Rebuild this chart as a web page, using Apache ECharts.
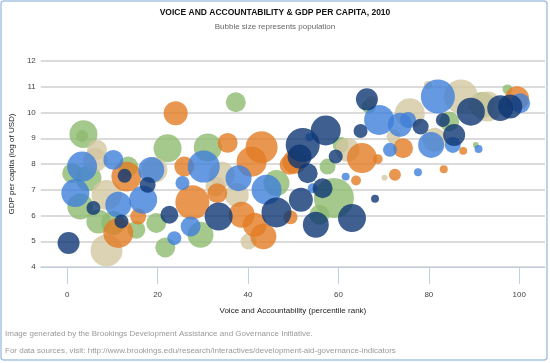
<!DOCTYPE html>
<html><head><meta charset="utf-8">
<script src="https://cdn.jsdelivr.net/npm/echarts@6/dist/echarts.min.js"></script>
<style>html,body{margin:0;padding:0;background:#fff}#c{width:550px;height:363px}</style>
</head><body><div id="c"></div>
<script>
// [voice & accountability percentile, log GDP per capita, population (index)]
var navyPts = [
 [0.3,4.93,84],[12.0,5.77,34],[12.7,7.54,34],[17.8,7.19,44],[5.8,6.29,34],[22.6,6.03,56],
 [33.5,5.96,136],[46.3,6.12,156],[51.7,6.61,100],[51.4,8.29,100],[52.1,8.74,201],[53.2,7.64,69],
 [56.5,7.06,69],[57.2,9.3,156],[63.0,5.9,136],[55.0,5.64,117],[59.4,8.29,34],[64.9,9.28,34],
 [66.3,10.51,84],[68.1,6.65,11],[78.2,9.45,44],[83.1,9.71,34],[85.6,9.13,84],[95.8,10.17,117],
 [98.0,10.23,100],[89.3,10.03,136]
];
var bluePts = [
 [3.3,7.9,156],[10.2,8.16,69],[1.8,6.87,136],[11.3,6.42,117],[16.8,6.61,136],[18.6,7.77,117],
 [25.5,7.26,34],[23.7,5.12,34],[27.3,5.57,69],[30.2,7.9,178],[37.9,7.45,117],[44.1,7.0,156],
 [53.6,9.04,11],[54.3,7.06,17],[61.6,7.51,11],[69.0,9.71,156],[73.6,9.52,100],[75.4,9.71,44],
 [71.4,8.55,34],[77.6,7.68,11],[80.5,8.74,117],[82.0,10.62,201],[85.3,8.74,44],[91.0,8.58,11],
 [100.2,10.36,69]
];
var greenPts = [
 [3.6,9.16,136],[3.3,9.09,25],[1.1,7.64,69],[4.7,7.45,117],[2.9,6.35,117],[6.9,5.77,100],
 [10.2,5.71,100],[13.5,7.9,69],[15.3,5.45,56],[19.7,5.71,69],[21.7,4.76,69],[22.2,8.61,136],
 [31.1,8.64,136],[37.3,10.4,69],[29.5,5.25,117],[46.3,7.26,117],[57.6,7.9,44],[60.5,8.74,44],
 [59.0,6.68,278],[55.8,6.03,69],[66.7,10.23,34],[84.5,9.65,69],[91.8,10.29,117],[97.4,10.9,17],
 [90.4,8.74,6]
];
var orangePts = [
 [11.3,5.32,156],[13.1,7.51,156],[15.7,5.96,44],[24.0,9.97,100],[25.9,7.9,69],[27.7,6.51,201],
 [35.5,8.82,69],[33.2,6.87,69],[43.0,8.65,178],[40.8,8.09,156],[38.6,6.03,117],[41.5,5.64,100],
 [43.4,5.19,117],[49.2,7.97,69],[50.3,8.09,100],[49.4,5.93,34],[65.2,8.23,156],[68.7,8.19,17],
 [63.9,7.36,17],[72.5,7.58,25],[74.3,8.61,69],[83.3,7.8,11],[87.6,8.51,11],[99.5,10.55,100]
];
var tanPts = [
 [8.7,4.64,178],[6.6,8.55,69],[6.2,8.16,100],[8.7,6.8,156],[19.3,7.77,117],[34.2,7.58,117],
 [32.8,7.13,69],[37.5,6.8,100],[40.1,4.99,44],[62.0,8.55,100],[67.3,10.42,25],[70.2,7.47,6],
 [72.2,9.06,34],[75.8,9.97,156],[81.3,8.94,100],[87.1,10.62,201],[92.9,10.23,156],[79.8,11.07,11]
];
var xTicks = [0,20,40,60,80,100];
var yMin = 4, yMax = 12;

var FONT = '"Liberation Sans", Arial, sans-serif';
function ser(data, color){
  return {type:'scatter', data:data,
    symbolSize:function(d){return 2.4*Math.sqrt(d[2]);},
    itemStyle:{color:color, opacity:0.8}, emphasis:{disabled:true}};
}
var chart = echarts.init(document.getElementById('c'));
chart.setOption({
  animation:false,
  textStyle:{fontFamily:FONT},
  title:{text:'VOICE AND ACCOUNTABILITY & GDP PER CAPITA, 2010', left:'center', top:3,
    textStyle:{fontSize:8.5, fontWeight:'bold', color:'#111', fontFamily:FONT},
    subtext:'Bubble size represents population', itemGap:6,
    subtextStyle:{fontSize:8, color:'#666', fontFamily:FONT}},
  grid:{left:35, right:5, top:61, bottom:96},
  xAxis:{type:'value', min:-5.84, max:105.7,
    name:'Voice and Accountability (percentile rank)', nameLocation:'middle', nameGap:40,
    nameTextStyle:{fontSize:8, color:'#222', fontFamily:FONT},
    axisLine:{lineStyle:{color:'#c0d0e4', width:1}},
    axisTick:{show:true, customValues:xTicks, inside:false, length:17, lineStyle:{color:'#c0d0e4'}},
    axisLabel:{customValues:xTicks, margin:24, fontSize:8, color:'#444'},
    splitLine:{show:false}},
  yAxis:{type:'value', min:yMin, max:yMax, interval:1,
    name:'GDP per capita (log of USD)', nameLocation:'middle', nameGap:21,
    nameTextStyle:{fontSize:8, color:'#222', fontFamily:FONT},
    axisLine:{show:false}, axisTick:{show:false},
    axisLabel:{fontSize:8, color:'#444', margin:5},
    splitLine:{lineStyle:{color:'#cfcfcf', width:1.5}}},
  series:[
    ser(greenPts,'#8eba6f'),
    ser(tanPts,'#d3c7a1'),
    ser(orangePts,'#e27c24'),
    ser(bluePts,'#3f7fd9'),
    ser(navyPts,'#0e3774')
  ],
  graphic:[
    {type:'rect', shape:{x:1,y:1,width:546,height:359,r:3}, style:{fill:'none', stroke:'#a9c3e2', lineWidth:1.5}, silent:true},
    {type:'text', left:5, top:330, style:{text:'Image generated by the Brookings Development Assistance and Governance Initiative.', fill:'#999', font:'8px '+FONT}},
    {type:'text', left:5, top:347, style:{text:'For data sources, visit: http://www.brookings.edu/research/interactives/development-aid-governance-indicators', fill:'#999', font:'8px '+FONT}}
  ]
});
</script></body></html>
